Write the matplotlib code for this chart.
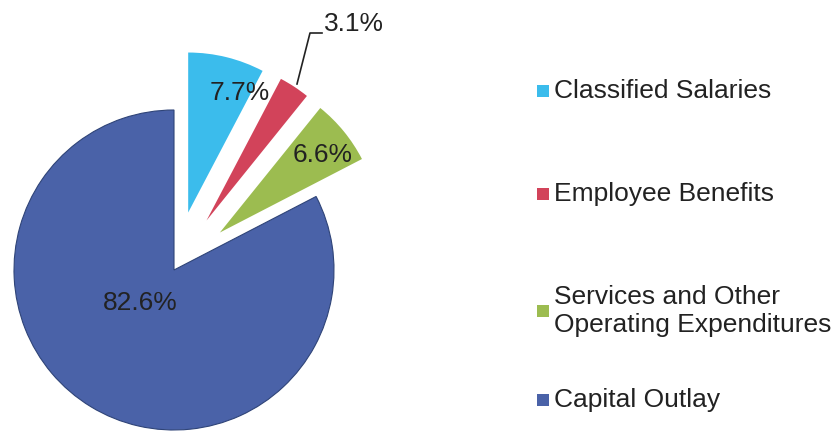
import matplotlib
matplotlib.use('Agg')
import matplotlib.pyplot as plt
from matplotlib.patches import Rectangle

categories = ['Classified Salaries', 'Employee Benefits',
              'Services and Other\nOperating Expenditures', 'Capital Outlay']
shares = [7.7, 3.1, 6.6, 82.6]
pct_labels = ['7.7%', '3.1%', '6.6%', '82.6%']
colors = ['#3bbcec', '#d2435a', '#9cbc50', '#4a62a8']
explode = [0.37, 0.37, 0.37, 0.0]

plt.rcParams['font.family'] = ['Liberation Sans', 'DejaVu Sans']

W, H = 838, 436
fig = plt.figure(figsize=(W / 100, H / 100), dpi=100)
fig.patch.set_facecolor('white')

# pie axes: 1 data unit = 160 px, centre at pixel (174, 270)
R = 160.0
cx, cy = 174, 270
ax = fig.add_axes([0, 0, 400 / W, 1])

wedges, _ = ax.pie(shares, colors=colors, explode=explode, startangle=90,
                   counterclock=False, normalize=True,
                   wedgeprops=dict(linewidth=0))
wedges[3].set_edgecolor('#2f4478')
wedges[3].set_linewidth(0.8)

ax.set_aspect('auto')
ax.set_xlim(-cx / R, (400 - cx) / R)
ax.set_ylim(-(H - cy) / R, cy / R)
ax.axis('off')


def px(x, y):
    return ((x - cx) / R, (cy - y) / R)


label_pos = [(240, 93), None, (323, 155), (140, 303)]
for lab, pos in zip(pct_labels, label_pos):
    if pos is None:
        continue
    ax.text(*px(*pos), lab, ha='center', va='center', fontsize=19,
            color='#222222')

# leader for the small slice
lx, ly = zip(px(297, 84), px(310, 33), px(322, 33))
ax.plot(lx, ly, color='#222222', lw=1.2, clip_on=False)
ax.text(*px(324, 24), pct_labels[1], ha='left', va='center', fontsize=19,
        color='#222222')

# legend drawn by hand (uneven row spacing in the original)
rows_y = [91, 194, 311, 400]
for name, col, yy in zip(categories, colors, rows_y):
    sq = 12
    fig.patches.append(Rectangle((537 / W, (H - yy - sq / 2) / H), sq / W, sq / H,
                                 transform=fig.transFigure, facecolor=col,
                                 edgecolor='none'))
    fig.text(554 / W, (H - yy) / H, name, ha='left', va='center',
             fontsize=19, color='#222222', linespacing=1.2)

fig.savefig('out.png', dpi=100, facecolor='white')
